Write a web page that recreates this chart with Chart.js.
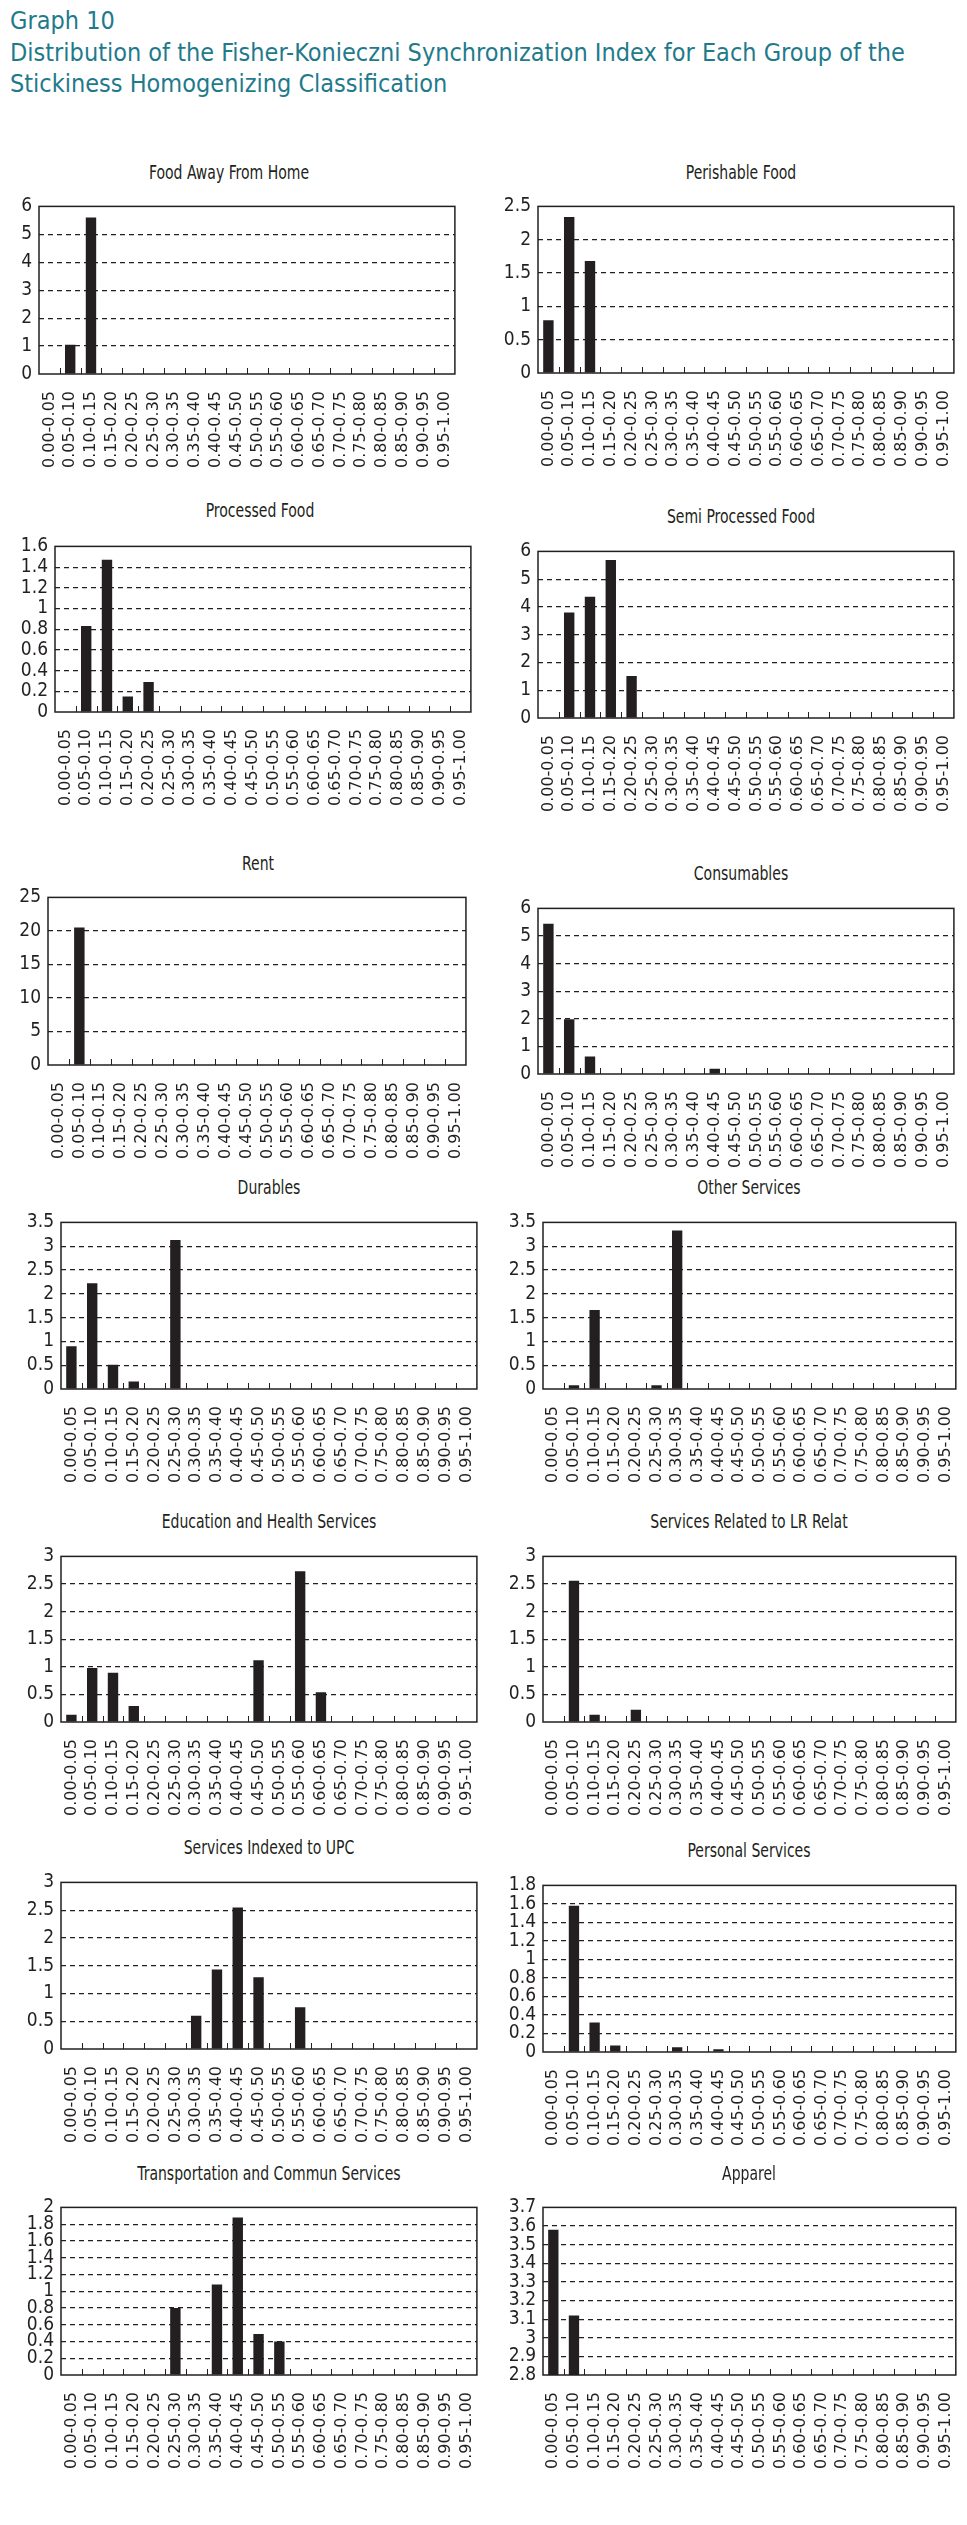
<!DOCTYPE html>
<html>
<head>
<meta charset="utf-8">
<script src="https://cdn.jsdelivr.net/npm/chart.js@4.4.1/dist/chart.umd.min.js"></script>
<style>
body { margin: 0; background: #fff; width: 967px; height: 2525px; position: relative; overflow: hidden; }
.hd { position: absolute; left: 10px; top: 5px; color: #1f7a8c; font: 25px/31.5px 'Liberation Sans Narrow', 'DejaVu Sans Condensed', sans-serif; white-space: nowrap; }
.pt { position: absolute; width: 460px; text-align: center; color: #231f20; font: 19px/22px 'Liberation Sans Narrow', 'DejaVu Sans Condensed', sans-serif; white-space: nowrap; transform: scaleX(0.82); }
canvas { position: absolute; }
</style>
</head>
<body>
<div class="hd">Graph 10<br>Distribution of the Fisher-Konieczni Synchronization Index for Each Group of the<br>Stickiness Homogenizing Classification</div>
<script>
const bins = ['0.00-0.05', '0.05-0.10', '0.10-0.15', '0.15-0.20', '0.20-0.25', '0.25-0.30', '0.30-0.35',
    '0.35-0.40', '0.40-0.45', '0.45-0.50', '0.50-0.55', '0.55-0.60', '0.60-0.65', '0.65-0.70',
    '0.70-0.75', '0.75-0.80', '0.80-0.85', '0.85-0.90', '0.90-0.95', '0.95-1.00'];

const foodAwayFromHome  = [0, 1.05, 5.6, 0, 0, 0, 0, 0, 0, 0, 0, 0, 0, 0, 0, 0, 0, 0, 0, 0];
const perishableFood    = [0.79, 2.34, 1.68, 0, 0, 0, 0, 0, 0, 0, 0, 0, 0, 0, 0, 0, 0, 0, 0, 0];
const processedFood     = [0, 0.83, 1.47, 0.15, 0.29, 0, 0, 0, 0, 0, 0, 0, 0, 0, 0, 0, 0, 0, 0, 0];
const semiProcessedFood = [0, 3.8, 4.37, 5.69, 1.51, 0, 0, 0, 0, 0, 0, 0, 0, 0, 0, 0, 0, 0, 0, 0];
const rent              = [0, 20.5, 0, 0, 0, 0, 0, 0, 0, 0, 0, 0, 0, 0, 0, 0, 0, 0, 0, 0];
const consumables       = [5.44, 1.98, 0.63, 0.02, 0, 0, 0, 0, 0.19, 0, 0, 0, 0, 0, 0, 0, 0, 0, 0, 0];
const durables          = [0.9, 2.22, 0.51, 0.16, 0, 3.13, 0, 0, 0, 0, 0, 0, 0, 0, 0, 0, 0, 0, 0, 0];
const otherServices     = [0, 0.08, 1.66, 0, 0, 0.08, 3.33, 0, 0, 0, 0, 0, 0, 0, 0, 0, 0, 0, 0, 0];
const eduHealth         = [0.13, 0.98, 0.89, 0.29, 0, 0, 0, 0, 0, 1.12, 0, 2.73, 0.54, 0, 0, 0, 0, 0, 0, 0];
const servicesLR        = [0, 2.56, 0.13, 0, 0.22, 0, 0, 0, 0, 0, 0, 0, 0, 0, 0, 0, 0, 0, 0, 0];
const servicesUPC       = [0, 0, 0, 0, 0, 0, 0.6, 1.43, 2.55, 1.29, 0, 0.75, 0, 0, 0, 0, 0, 0, 0, 0];
const personalServices  = [0, 1.58, 0.32, 0.07, 0, 0, 0.05, 0, 0.03, 0, 0, 0, 0, 0, 0, 0, 0, 0, 0, 0];
const transportComm     = [0, 0, 0, 0, 0, 0.8, 0, 1.08, 1.88, 0.49, 0.4, 0, 0, 0, 0, 0, 0, 0, 0, 0];
const apparel           = [3.58, 3.12, 0, 0, 0, 0, 0, 0, 0, 0, 0, 0, 0, 0, 0, 0, 0, 0, 0, 0];

// title, values, y range, plot box [left, top, right, bottom], title centre
const panels = [
    {title: 'Food Away From Home', values: foodAwayFromHome, min: 0, max: 6, step: 1, box: [39, 202, 461, 374], tx: 229, ty: 172},
    {title: 'Perishable Food', values: perishableFood, min: 0, max: 2.5, step: 0.5, box: [538, 202, 960, 373], tx: 741, ty: 172},
    {title: 'Processed Food', values: processedFood, min: 0, max: 1.6, step: 0.2, box: [55, 542, 477, 712], tx: 260, ty: 510},
    {title: 'Semi Processed Food', values: semiProcessedFood, min: 0, max: 6, step: 1, box: [538, 547, 960, 718], tx: 741, ty: 516},
    {title: 'Rent', values: rent, min: 0, max: 25, step: 5, box: [48, 893, 472, 1065], tx: 258, ty: 863},
    {title: 'Consumables', values: consumables, min: 0, max: 6, step: 1, box: [538, 904, 960, 1074], tx: 741, ty: 873},
    {title: 'Durables', values: durables, min: 0, max: 3.5, step: 0.5, box: [61, 1218, 483, 1389], tx: 269, ty: 1187},
    {title: 'Other Services', values: otherServices, min: 0, max: 3.5, step: 0.5, box: [543, 1218, 962, 1389], tx: 749, ty: 1187},
    {title: 'Education and Health Services', values: eduHealth, min: 0, max: 3, step: 0.5, box: [61, 1552, 483, 1722], tx: 269, ty: 1521},
    {title: 'Services Related to LR Relat', values: servicesLR, min: 0, max: 3, step: 0.5, box: [543, 1552, 962, 1722], tx: 749, ty: 1521},
    {title: 'Services Indexed to UPC', values: servicesUPC, min: 0, max: 3, step: 0.5, box: [61, 1878, 483, 2049], tx: 269, ty: 1847},
    {title: 'Personal Services', values: personalServices, min: 0, max: 1.8, step: 0.2, box: [543, 1881, 962, 2052], tx: 749, ty: 1850},
    {title: 'Transportation and Commun Services', values: transportComm, min: 0, max: 2, step: 0.2, box: [61, 2203, 483, 2375], tx: 269, ty: 2173},
    {title: 'Apparel', values: apparel, min: 2.8, max: 3.7, step: 0.1, box: [543, 2203, 962, 2375], tx: 749, ty: 2173}
];

const INK = '#231f20';
const NARROW = "'Liberation Sans Narrow', 'DejaVu Sans Condensed', sans-serif";
const Y_W = 50, X_H = 100, PAD_T = 14, PAD_R = 12;

// box around the plot + little ticks at the category boundaries
const framePlugin = {
    id: 'frame',
    afterDatasetsDraw(chart) {
        const {ctx, chartArea: a, scales: {x}} = chart;
        ctx.save();
        ctx.strokeStyle = INK;
        ctx.lineWidth = 1;
        const w = x.getPixelForValue(1) - x.getPixelForValue(0);
        for (let i = 1; i < bins.length; i++) {
            const px = Math.round(x.getPixelForValue(i) - w / 2) + 0.5;
            ctx.beginPath();
            ctx.moveTo(px, a.bottom);
            ctx.lineTo(px, a.bottom - 6);
            ctx.stroke();
        }
        ctx.lineWidth = 1.5;
        ctx.strokeRect(a.left, a.top, a.right - a.left, a.bottom - a.top);
        ctx.restore();
    }
};

panels.forEach(p => {
    const [l, t, r, b] = p.box;

    const tt = document.createElement('div');
    tt.className = 'pt';
    tt.textContent = p.title;
    tt.style.left = (p.tx - 230) + 'px';
    tt.style.top = (p.ty - 11) + 'px';
    document.body.appendChild(tt);

    const cv = document.createElement('canvas');
    cv.width = r - l + Y_W + PAD_R;
    cv.height = b - t + PAD_T + X_H;
    cv.style.left = (l - Y_W) + 'px';
    cv.style.top = (t - PAD_T) + 'px';
    document.body.appendChild(cv);

    new Chart(cv.getContext('2d'), {
        type: 'bar',
        data: {
            labels: bins,
            datasets: [{
                data: p.values,
                backgroundColor: INK,
                barPercentage: 0.5,
                categoryPercentage: 1
            }]
        },
        options: {
            responsive: false,
            animation: false,
            layout: {padding: {top: PAD_T, right: PAD_R, left: 0, bottom: 0}},
            plugins: {legend: {display: false}, tooltip: {enabled: false}},
            scales: {
                x: {
                    afterFit: s => { s.height = X_H; },
                    grid: {display: false},
                    border: {display: false},
                    ticks: {
                        autoSkip: false, minRotation: 90, maxRotation: 90, padding: 9,
                        color: INK, font: {family: "'DejaVu Sans', sans-serif", size: 16}
                    }
                },
                y: {
                    min: p.min,
                    max: p.max,
                    afterFit: s => { s.width = Y_W; },
                    grid: {
                        drawTicks: false,
                        lineWidth: 1.2,
                        color: c => (Math.abs(c.tick.value - p.min) < 1e-6 || Math.abs(c.tick.value - p.max) < 1e-6) ? 'rgba(0,0,0,0)' : INK
                    },
                    border: {display: false, dash: [5, 4]},
                    ticks: {
                        autoSkip: false, stepSize: p.step, padding: 7, color: INK,
                        font: {family: NARROW, size: 19},
                        callback: v => String(+v.toFixed(2))
                    }
                }
            }
        },
        plugins: [framePlugin]
    });
});
</script>
</body>
</html>
